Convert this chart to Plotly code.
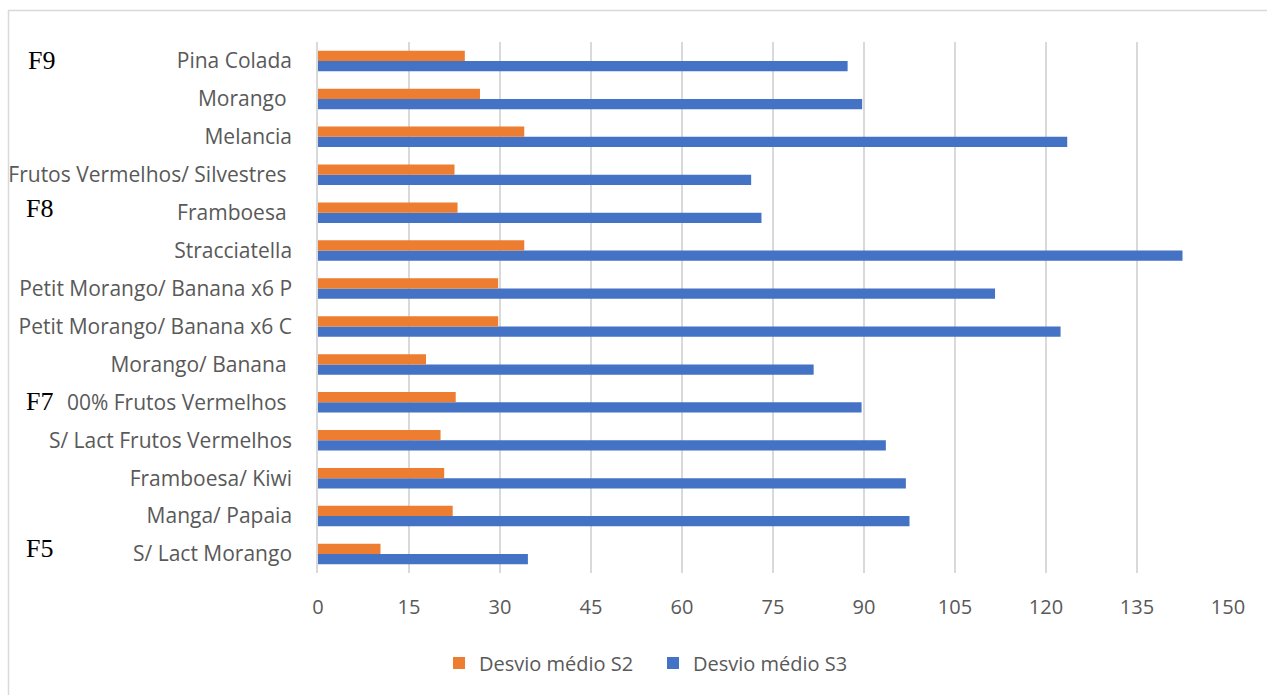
import plotly.graph_objects as go

categories = [
    "S/ Lact Morango", "Manga/ Papaia", "Framboesa/ Kiwi", "S/ Lact Frutos Vermelhos",
    "00% Frutos Vermelhos\u00a0", "Morango/ Banana\u00a0", "Petit Morango/ Banana x6 C",
    "Petit Morango/ Banana x6 P", "Stracciatella", "Framboesa\u00a0",
    "Frutos Vermelhos/ Silvestres\u00a0", "Melancia", "Morango\u00a0", "Pina Colada",
]
s2_values = [10.3, 22.2, 20.8, 20.2, 22.7, 17.8, 29.7, 29.7, 34.0, 23.0, 22.5, 34.0, 26.7, 24.2]
s3_values = [34.6, 97.5, 96.9, 93.6, 89.6, 81.7, 122.4, 111.6, 142.5, 73.1, 71.4, 123.5, 89.7, 87.3]
x_ticks = [0, 15, 30, 45, 60, 75, 90, 105, 120, 135, 150]
group_labels = ["F9", "F8", "F7", "F5"]

W, H = 1267, 695
L, R, T, B = 318, 1228, 42, 573

def px_x(px):
    return (px - L) / (R - L)

def px_y(py):
    return (B - py) / (B - T)

TXT = "#595959"
FONT = "Open Sans"
FS = 20

fig = go.Figure()
fig.add_trace(go.Bar(
    y=categories, x=s3_values, orientation="h", name="Desvio médio S3",
    marker=dict(color="#4472C4", line=dict(width=0)), legendrank=2,
))
fig.add_trace(go.Bar(
    y=categories, x=s2_values, orientation="h", name="Desvio médio S2",
    marker=dict(color="#ED7D31", line=dict(width=0)), legendrank=1,
))

label_pos = [(41, 60), (39, 208), (39, 401), (39, 548)]
annotations = []
for txt, (ax, ay) in zip(group_labels, label_pos):
    annotations.append(dict(
        text=txt, xref="paper", yref="paper", x=px_x(ax), y=px_y(ay),
        xanchor="center", yanchor="middle", showarrow=False,
        font=dict(family="Liberation Serif", size=26, color="#000000"),
    ))

shapes = [
    dict(type="line", xref="paper", yref="paper", x0=px_x(8), x1=px_x(1275),
         y0=px_y(10.5), y1=px_y(10.5), line=dict(color="#D9D9D9", width=1.5)),
    dict(type="line", xref="paper", yref="paper", x0=px_x(8.5), x1=px_x(8.5),
         y0=px_y(10), y1=px_y(700), line=dict(color="#D9D9D9", width=1.5)),
]

fig.update_layout(
    width=W, height=H,
    margin=dict(l=L, r=W - R, t=T, b=H - B, autoexpand=False),
    paper_bgcolor="white", plot_bgcolor="white",
    barmode="group", bargap=0.46, bargroupgap=0,
    font=dict(family=FONT, color=TXT, size=FS),
    xaxis=dict(
        range=[0, 150], tickvals=x_ticks, showgrid=True, gridcolor="#D9D9D9",
        gridwidth=1.5, zeroline=False, showline=False, ticks="", automargin=False,
        ticklabelstandoff=20, tickfont=dict(size=FS, color=TXT, family=FONT),
    ),
    yaxis=dict(
        type="category", showgrid=False, showline=True, linecolor="#D9D9D9",
        linewidth=1.5, ticks="", ticklabelstandoff=20, automargin=False,
        tickfont=dict(size=21, color=TXT, family=FONT),
    ),
    legend=dict(
        orientation="h", xanchor="left", yanchor="middle",
        x=px_x(439), y=px_y(663), font=dict(size=FS, color=TXT, family=FONT),
        bgcolor="rgba(0,0,0,0)", entrywidth=169, borderwidth=0,
    ),
    annotations=annotations, shapes=shapes,
)

fig.write_html("out.html")
